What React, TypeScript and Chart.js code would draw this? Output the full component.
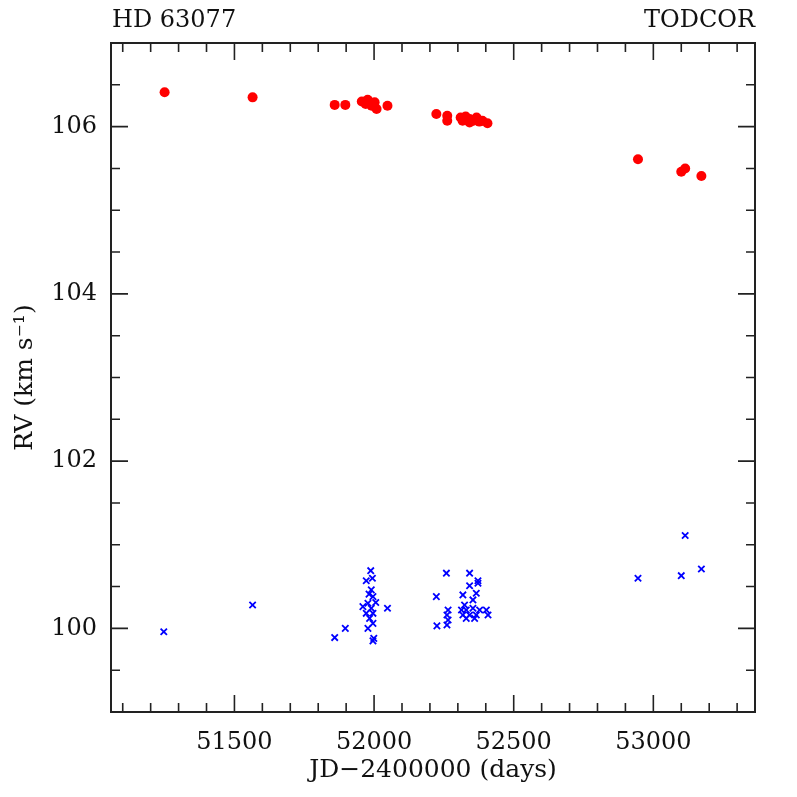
import React, { useEffect, useRef } from "react";
import { Chart, registerables } from "chart.js";

Chart.register(...registerables);

const primaryJD = [51250, 51565, 51859, 51897, 51956, 51970, 51977, 51984, 51991, 52002, 52009, 52048, 52223, 52262, 52262, 52310, 52317, 52328, 52342, 52342, 52356, 52367, 52377, 52388, 52406, 52945, 53100, 53114, 53172];
const primaryRV = [106.41, 106.35, 106.26, 106.26, 106.30, 106.27, 106.32, 106.29, 106.25, 106.29, 106.21, 106.25, 106.15, 106.13, 106.07, 106.11, 106.07, 106.12, 106.09, 106.05, 106.07, 106.11, 106.06, 106.07, 106.04, 105.61, 105.46, 105.50, 105.41];

const secondaryJD = [51247, 51565, 51859, 51897, 52048, 51988, 51972, 51994, 51990, 51982, 51996, 51960, 51978, 52006, 51990, 51972, 51996, 51984, 51996, 51978, 51999, 51996, 52259, 52223, 52225, 52265, 52261, 52265, 52261, 52342, 52372, 52372, 52342, 52318, 52366, 52324, 52354, 52330, 52354, 52378, 52318, 52342, 52366, 52402, 52408, 52330, 52360, 52313, 52945, 53114, 53100, 53172];
const secondaryRV = [99.96, 100.28, 99.89, 100.0, 100.24, 100.69, 100.57, 100.6, 100.46, 100.41, 100.38, 100.26, 100.3, 100.31, 100.24, 100.18, 100.18, 100.12, 100.06, 100.0, 99.88, 99.85, 100.66, 100.38, 100.03, 100.22, 100.16, 100.1, 100.04, 100.66, 100.57, 100.54, 100.51, 100.4, 100.42, 100.28, 100.34, 100.22, 100.24, 100.22, 100.16, 100.16, 100.16, 100.22, 100.16, 100.12, 100.12, 100.22, 100.6, 101.11, 100.63, 100.71];

const xTickLabels = [51500, 52000, 52500, 53000];
const yTickLabels = [100, 102, 104, 106];

const xMin = 51058;
const xMax = 53364;
const yMin = 99;
const yMax = 107;
const xMinorStep = 100;
const xMajorStep = 500;
const yMinorStep = 0.5;
const yMajorStep = 2;

const starName = "HD 63077";
const methodName = "TODCOR";
const xTitle = "JD\u22122400000 (days)";
const yTitle = "RV (km s\u207B\u00B9)";

const FONT = "'DejaVu Serif', serif";

const framePlugin = {
  id: "framePlugin",
  afterDraw(chart: any) {
    const { ctx, chartArea, scales } = chart;
    const { left, right, top, bottom } = chartArea;
    const xs = scales.x;
    const ys = scales.y;
    ctx.save();
    ctx.strokeStyle = "#222";
    ctx.lineWidth = 1.6;
    const near = (v: number, s: number) => Math.abs(v / s - Math.round(v / s)) < 1e-6;
    for (let v = Math.ceil(xMin / xMinorStep) * xMinorStep; v <= xMax; v += xMinorStep) {
      const px = xs.getPixelForValue(v);
      const len = near(v, xMajorStep) ? 17 : 9;
      ctx.beginPath();
      ctx.moveTo(px, bottom);
      ctx.lineTo(px, bottom - len);
      ctx.moveTo(px, top);
      ctx.lineTo(px, top + len);
      ctx.stroke();
    }
    for (let i = Math.ceil(yMin / yMinorStep); i * yMinorStep <= yMax + 1e-9; i++) {
      const v = i * yMinorStep;
      const py = ys.getPixelForValue(v);
      const len = near(v, yMajorStep) ? 17 : 9;
      ctx.beginPath();
      ctx.moveTo(left, py);
      ctx.lineTo(left + len, py);
      ctx.moveTo(right, py);
      ctx.lineTo(right - len, py);
      ctx.stroke();
    }
    ctx.lineWidth = 2;
    ctx.strokeRect(left, top, right - left, bottom - top);
    ctx.fillStyle = "#111";
    ctx.font = `24px ${FONT}`;
    ctx.textBaseline = "alphabetic";
    ctx.textAlign = "left";
    ctx.fillText(starName, left + 1, 27);
    ctx.textAlign = "right";
    ctx.fillText(methodName, right, 27);
    ctx.restore();
  },
};

export default function App() {
  const ref = useRef<HTMLCanvasElement | null>(null);
  useEffect(() => {
    document.body.style.margin = "0";
    if (!ref.current) return;
    const chart = new Chart(ref.current, {
      type: "scatter",
      data: {
        datasets: [
          {
            label: "secondary",
            data: secondaryJD.map((x, i) => ({ x, y: secondaryRV[i] })),
            pointStyle: "crossRot",
            pointRadius: 4.5,
            borderColor: "#0000ff",
            backgroundColor: "#0000ff",
            pointBorderWidth: 1.8,
          },
          {
            label: "primary",
            data: primaryJD.map((x, i) => ({ x, y: primaryRV[i] })),
            pointStyle: "circle",
            pointRadius: 5,
            borderColor: "#ff0000",
            backgroundColor: "#ff0000",
            pointBorderWidth: 0,
          },
        ],
      },
      options: {
        responsive: false,
        animation: false,
        layout: { padding: { top: 43, right: 42, bottom: 0, left: 0 } },
        plugins: { legend: { display: false }, tooltip: { enabled: false } },
        scales: {
          x: {
            type: "linear",
            min: xMin,
            max: xMax,
            grid: { display: false, drawTicks: false },
            border: { display: false },
            afterBuildTicks: (s: any) => {
              s.ticks = xTickLabels.map((value) => ({ value }));
            },
            afterFit: (s: any) => {
              s.height = 85;
            },
            ticks: {
              autoSkip: false,
              maxRotation: 0,
              padding: 16,
              color: "#111",
              font: { family: FONT, size: 24 },
              callback: (v: any) => String(v),
            },
            title: {
              display: true,
              text: xTitle,
              color: "#111",
              font: { family: FONT, size: 25 },
              padding: { top: 0, bottom: 12 },
            },
          },
          y: {
            type: "linear",
            min: yMin,
            max: yMax,
            grid: { display: false, drawTicks: false },
            border: { display: false },
            afterBuildTicks: (s: any) => {
              s.ticks = yTickLabels.map((value) => ({ value }));
            },
            afterFit: (s: any) => {
              s.width = 111;
            },
            ticks: {
              autoSkip: false,
              padding: 14,
              color: "#111",
              font: { family: FONT, size: 24 },
              callback: (v: any) => String(v),
            },
            title: {
              display: true,
              text: yTitle,
              color: "#111",
              font: { family: FONT, size: 25 },
              padding: { top: 10, bottom: 0 },
            },
          },
        },
      },
      plugins: [framePlugin],
    });
    return () => chart.destroy();
  }, []);
  return (
    <div style={{ position: "absolute", left: 0, top: 0, width: 797, height: 797, background: "#fff" }}>
      <canvas ref={ref} width={797} height={797} />
    </div>
  );
}
